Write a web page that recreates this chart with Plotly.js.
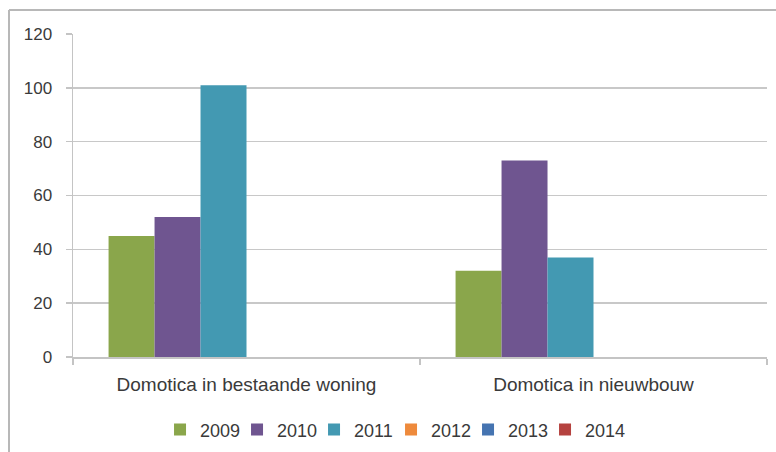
<!DOCTYPE html>
<html>
<head>
<meta charset="utf-8">
<script src="https://cdn.plot.ly/plotly-3.0.1.min.js"></script>
<style>html,body{margin:0;padding:0;background:#fff}#chart{width:776px;height:452px}</style>
</head>
<body>
<div id="chart"></div>
<script>
const categories = ["Domotica in bestaande woning", "Domotica in nieuwbouw"];
const years = ["2009", "2010", "2011", "2012", "2013", "2014"];
const v2009 = [45, 32];
const v2010 = [52, 73];
const v2011 = [101, 37];
const v2012 = [0, 0];
const v2013 = [0, 0];
const v2014 = [0, 0];
const colors = ["#8aa64b", "#6f5590", "#4399b2", "#ee8a3c", "#4574b1", "#b5423f"];

const seriesValues = [v2009, v2010, v2011, v2012, v2013, v2014];
const traces = years.map((y, i) => {
  const t = {
    type: "bar",
    name: y,
    x: categories,
    y: seriesValues[i],
    marker: {color: colors[i], line: {width: 0}},
    hoverinfo: "x+y+name"
  };
  if (i === years.length - 1) t.legendwidth = 48;
  return t;
});

const L = 73, R = 9, T = 34, B = 95, W = 776, H = 452;
const pw = W - L - R, ph = H - T - B;

const layout = {
  width: W, height: H,
  margin: {l: L, r: R, t: T, b: B, pad: 0},
  paper_bgcolor: "#ffffff",
  plot_bgcolor: "#ffffff",
  barmode: "group",
  bargap: 0.205,
  bargroupgap: 0,
  font: {family: "Liberation Sans, Arial, sans-serif", size: 16, color: "#3a3a3a"},
  xaxis: {
    type: "category",
    showline: true, linecolor: "#c4c4c4", linewidth: 1.5,
    ticks: "outside", tickson: "boundaries", ticklen: 6, tickcolor: "#c4c4c4", tickwidth: 1.5,
    showgrid: false, zeroline: false,
    tickfont: {size: 19, color: "#3a3a3a"},
    ticklabelstandoff: 10
  },
  yaxis: {
    range: [0, 120], dtick: 20, tick0: 0,
    showgrid: true, gridcolor: "#c8c8c8", gridwidth: 1.5,
    showline: true, linecolor: "#c4c4c4", linewidth: 1.5,
    ticks: "outside", ticklen: 6, tickcolor: "#c4c4c4", tickwidth: 1.5,
    zeroline: false,
    tickfont: {size: 17, color: "#3a3a3a"},
    ticklabelstandoff: 10
  },
  showlegend: true,
  legend: {
    orientation: "h",
    x: 0.1254, xanchor: "left",
    yref: "container",
    y: 0.049, yanchor: "middle",
    font: {size: 18, color: "#3a3a3a"},
    itemwidth: 30,
    entrywidth: 32,
    entrywidthmode: "pixels",
    traceorder: "normal",
    bgcolor: "rgba(0,0,0,0)"
  },
  shapes: [
    {type: "line", xref: "paper", yref: "paper",
     x0: (9 - L) / pw, x1: (9 - L) / pw, y0: 1 + (T - 10) / ph, y1: -(B + 5) / ph,
     line: {color: "#b8b8b8", width: 2}},
    {type: "line", xref: "paper", yref: "paper",
     x0: (9 - L) / pw, x1: 1 + (R + 5) / pw, y0: 1 + (T - 10) / ph, y1: 1 + (T - 10) / ph,
     line: {color: "#b8b8b8", width: 2}}
  ]
};

Plotly.newPlot("chart", traces, layout, {displayModeBar: false, staticPlot: true});
</script>
</body>
</html>
